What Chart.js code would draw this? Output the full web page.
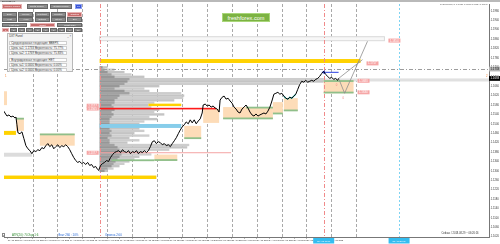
<!DOCTYPE html>
<html>
<head>
<meta charset="utf-8">
<script src="https://cdn.jsdelivr.net/npm/chart.js@4.4.1/dist/chart.umd.min.js"></script>
<style>
  html, body { margin: 0; padding: 0; background: #fff; }
  #wrap { position: relative; width: 500px; height: 244px; overflow: hidden; font-family: "Liberation Sans", Arial, sans-serif; }
  #chart { position: absolute; left: 0; top: 0; }
  .t { position: absolute; white-space: nowrap; line-height: 1; }
  .btn { position: absolute; box-sizing: border-box; background: #8b8b8b; color: #f0f0f0; border: 0.5px solid #666;
         font-size: 2.5px; text-align: center; white-space: nowrap; overflow: hidden; }
  .btn.on { background: #c76a6a; border-color: #e7b3b3; color: #fff; }
  .btn.blue { background: #3a55d6; border-color: #8ea0f0; color: #fff; }
  #panel { position: absolute; left: 6.7px; top: 32.7px; width: 66.6px; height: 39px; box-sizing: border-box;
           background: #f3f3f3; border: 0.5px solid #b8b8b8; }
  #panel .ttl { position: absolute; left: 1.5px; top: 0.8px; font-size: 2.8px; color: #333; }
  #panel .ico { position: absolute; right: 1.2px; top: 0.6px; font-size: 2.8px; color: #555; }
  #panel .ln { position: absolute; left: 1.6px; width: 58px; height: 4.3px; box-sizing: border-box; background: #fff;
               border: 0.5px solid #cfcfcf; font-size: 2.9px; line-height: 3.6px; padding-left: 1px; color: #333; white-space: nowrap; }
  #wm { position: absolute; left: 222px; top: 13px; width: 48px; height: 9px; box-sizing: border-box; background: #7cb342;
        border: 0.6px solid #a9d67a; color: #fff; font-size: 5.6px; line-height: 8px; text-align: center; }
  #topbar { position: absolute; left: 0; top: 0; width: 500px; height: 2px; background: #b9b9b9; }
</style>
</head>
<body>
<div id="wrap">
  <canvas id="chart" width="500" height="244"></canvas>
  <div id="topbar"></div>
  <div class="t" style="left:2px;top:0.3px;font-size:2.3px;color:#222">EURUSD,H1</div>
  <div class="t" style="left:440px;top:2.6px;font-size:2.1px;color:#555">[P] EURUSD,H1 1.16950 1.16962 1.16924 1.16933</div>

  <div class="btn on" style="left:2px;top:4.3px;width:20px;height:4.7px;line-height:4.2px">Volume Profile</div>
  <div class="btn" style="left:26.5px;top:4.3px;width:21px;height:4.7px;line-height:4.2px">Delta Profile</div>
  <div class="btn" style="left:50px;top:4.3px;width:22px;height:4.7px;line-height:4.2px">Jumbo Profile</div>
  <div class="btn blue" style="left:75px;top:4.3px;width:7px;height:4.7px;line-height:4.2px">Px</div>

  <div class="btn" style="left:2px;top:12px;width:15px;height:4.6px;line-height:4.1px">Daily</div>
  <div class="btn" style="left:18.3px;top:12px;width:15px;height:4.6px;line-height:4.1px">Weekly</div>
  <div class="btn" style="left:34.6px;top:12px;width:15px;height:4.6px;line-height:4.1px">Contract</div>
  <div class="btn" style="left:50.9px;top:12px;width:15px;height:4.6px;line-height:4.1px">Monthly</div>
  <div class="btn on" style="left:67.2px;top:12px;width:15px;height:4.6px;line-height:4.1px">Custom</div>

  <div class="btn" style="left:2px;top:17.4px;width:15px;height:4.4px;line-height:3.9px">Hist</div>
  <div class="btn" style="left:18.3px;top:17.4px;width:15px;height:4.4px;line-height:3.9px">Area</div>
  <div class="btn" style="left:34.6px;top:17.4px;width:15px;height:4.4px;line-height:3.9px">Outline</div>
  <div class="btn" style="left:50.9px;top:17.4px;width:15px;height:4.4px;line-height:3.9px">Styler</div>
  <div class="btn" style="left:67.2px;top:17.4px;width:15px;height:4.4px;line-height:3.9px">Del</div>

  <div class="btn" style="left:2px;top:22.6px;width:25px;height:4.4px;line-height:3.9px">Left Side</div>
  <div class="btn on" style="left:29.6px;top:22.6px;width:25.4px;height:4.4px;line-height:3.9px">Chart</div>
  <div class="btn" style="left:57.4px;top:22.6px;width:24.8px;height:4.4px;line-height:3.9px">Right Side</div>

  <div class="btn on" style="left:2px;top:27.8px;width:7.4px;height:4.2px;line-height:3.7px">1</div>
  <div class="btn" style="left:10px;top:27.8px;width:7.4px;height:4.2px;line-height:3.7px">2</div>
  <div class="btn" style="left:18px;top:27.8px;width:7.4px;height:4.2px;line-height:3.7px">3</div>
  <div class="btn" style="left:26px;top:27.8px;width:7.4px;height:4.2px;line-height:3.7px">4</div>
  <div class="btn" style="left:34px;top:27.8px;width:7.4px;height:4.2px;line-height:3.7px">5</div>
  <div class="btn" style="left:42px;top:27.8px;width:7.4px;height:4.2px;line-height:3.7px">6</div>
  <div class="btn" style="left:50px;top:27.8px;width:7.4px;height:4.2px;line-height:3.7px">7</div>
  <div class="btn" style="left:58px;top:27.8px;width:7.4px;height:4.2px;line-height:3.7px">8</div>
  <div class="btn" style="left:66px;top:27.8px;width:7.4px;height:4.2px;line-height:3.7px">9</div>
  <div class="btn" style="left:74px;top:27.8px;width:8.2px;height:4.2px;line-height:3.7px">10</div>

  <div id="panel">
    <div class="ttl">DXT Panel</div>
    <div class="ico">_ &#215;</div>
    <div class="ln" style="top:7.3px">Среднесрочная тенденция: ВВЕРХ</div>
    <div class="ln" style="top:12.3px">Цель №1: 1.1733 Вероятность: 75.77%</div>
    <div class="ln" style="top:17.3px">Цель №2: 1.1769 Вероятность: 75.83%</div>
    <div class="ln" style="top:24px">Внутридневная тенденция: НЕТ</div>
    <div class="ln" style="top:29px">Цель №1: 0.0000 Вероятность: 0.00%</div>
    <div class="ln" style="top:34px">Цель №2: 0.0000 Вероятность: 0.00%</div>
  </div>

  <div id="wm">freshforex.com</div>

  <div class="t" style="left:2px;top:233px;width:3.4px;height:3.8px;box-sizing:border-box;border:0.5px solid #888;font-size:2.4px;line-height:3px;text-align:center;color:#333">?</div>
  <div class="t" style="left:12px;top:233.6px;font-size:2.9px;color:#2e8b2e">ATR(20): 70 Ход 1:6</div>
  <div class="t" style="left:58px;top:233.6px;font-size:2.9px;color:#1f63d6">Флэт 260 : 10%</div>
  <div class="t" style="left:105px;top:233.6px;font-size:2.9px;color:#1f63d6">Отмена 2:00</div>
  <div class="t" style="left:441.5px;top:232.6px;font-size:2.6px;color:#333">Сейчас / 2018.08.29 ~ 06:26:16</div>
</div>

<script>
// ---- price (H1 closes, x = bar position) ----
const barX = [1,3,5,7,9,11,13,14,15,16,18,20,22,24,26,28,30,32,34,36,38,40,42,44,46,48,50,52,54,56,58,60,62,64,66,68,70,72,74,76,78,80,82,84,86,88,90,92,94,96,97,
  99,101,103,105,107,109,111,113,115,117,119,121,123,125,127,129,131,133,135,137,139,141,143,145,147,149,151,153,155,157,159,161,163,165,167,169,171,173,175,177,179,181,183,185,187,189,191,193,195,197,199,
  201,202,204,206,208,210,212,214,216,218,219,221,223,225,227,229,231,233,235,237,239,241,243,245,247,249,251,253,255,257,259,261,263,265,267,269,271,273,275,277,279,281,283,285,287,289,291,293,295,297,299,
  301,303,305,307,309,311,313,315,317,319,321,323,325,327,329,331,333,335,337,338];
const closePrice = [1.1559,1.1546,1.1533,1.1538,1.1529,1.1533,1.1525,1.1529,1.1496,1.1462,1.1458,1.1466,1.1437,1.1407,1.1394,1.1386,1.1373,1.1386,1.1382,1.1390,1.1386,1.1399,1.1394,1.1407,1.1416,1.1403,1.1411,1.1394,1.1403,1.1411,1.1399,1.1407,1.1403,1.1411,1.1403,1.1390,1.1373,1.1357,1.1344,1.1336,1.1340,1.1331,1.1336,1.1327,1.1336,1.1323,1.1327,1.1314,1.1319,1.1306,1.1302,
  1.1323,1.1331,1.1336,1.1344,1.1340,1.1357,1.1369,1.1378,1.1382,1.1386,1.1378,1.1390,1.1382,1.1378,1.1386,1.1373,1.1382,1.1378,1.1386,1.1373,1.1382,1.1378,1.1386,1.1378,1.1386,1.1403,1.1424,1.1428,1.1416,1.1424,1.1420,1.1411,1.1416,1.1407,1.1411,1.1403,1.1416,1.1428,1.1441,1.1458,1.1474,1.1487,1.1496,1.1508,1.1500,1.1517,1.1504,1.1517,1.1500,1.1512,1.1521,
  1.1546,1.1580,1.1584,1.1576,1.1580,1.1571,1.1576,1.1567,1.1563,1.1550,1.1601,1.1613,1.1618,1.1605,1.1609,1.1597,1.1588,1.1571,1.1563,1.1550,1.1546,1.1563,1.1571,1.1580,1.1567,1.1550,1.1538,1.1533,1.1542,1.1533,1.1538,1.1542,1.1546,1.1542,1.1554,1.1571,1.1597,1.1626,1.1630,1.1634,1.1626,1.1630,1.1618,1.1609,1.1605,1.1613,1.1609,1.1618,1.1626,1.1647,1.1668,
  1.1681,1.1677,1.1685,1.1677,1.1681,1.1685,1.1681,1.1689,1.1693,1.1702,1.1714,1.1723,1.1710,1.1702,1.1693,1.1698,1.1689,1.1693,1.1685,1.1693];

// highlighted (teal) stretch of the price line
const tealX = [283,285,287,289,291,293,295];
const tealPrice = [1.1618,1.1609,1.1605,1.1613,1.1609,1.1618,1.1626];

// projected scenario lines
const projAX = [338, 362];
const projAPrice = [1.1693, 1.1773];
const projBX = [338, 344, 367];
const projBPrice = [1.1693, 1.1630, 1.1851];
const arrowX = [323, 338];
const arrowPrice = [1.1719, 1.1719];

// volume profile (anchored at bar 98)
const profStart = 98;
const profStep = 0.0010;
const profPrice = [1.1740,1.1730,1.1720,1.1710,1.1700,1.1690,1.1680,1.1670,1.1660,1.1650,1.1640,1.1630,1.1620,1.1610,1.1600,1.1590,1.1580,1.1570,1.1560,1.1550,1.1540,1.1530,1.1520,1.1510,1.1500,1.1490,1.1480,1.1470,1.1460,1.1450,1.1440,1.1430,1.1420,1.1410,1.1400,1.1390,1.1380,1.1370,1.1360,1.1350,1.1340,1.1330,1.1320,1.1310,1.1300];
const profTotal = [8,15,25,32,45,225,225,200,60,45,50,82,85,84,75,55,49,52,60,55,65,50,58,45,40,40,40,45,35,50,30,40,28,90,88,70,45,52,40,35,30,25,20,14,8];
const profCore = [3,5,8,12,15,30,28,25,20,15,25,30,20,18,15,15,12,14,15,12,14,12,10,10,10,10,10,12,10,12,8,10,10,15,18,20,25,22,20,18,16,14,12,8,5];

// levels
const pocBand = [98, 489, 1.1693, 1.1680];
const topBand = [98, 384, 1.18704, 1.18535];
const yellowBands = [[98, 360, 1.17755, 1.17587], [2, 155, 1.12801, 1.12654], [2, 14, 1.14699, 1.14530], [147, 180, 1.15858, 1.15753]];
const greyBands = [[2, 30, 1.13771, 1.13602]];
const cyanBand = [98, 180, 1.14994, 1.14825];
const redLine = [98, 215, 1.15647];
const pinkLine = [98, 230, 1.13771];
const targetLevel = 1.1733;
const lastPrice = 1.1693;

// supply / demand zones [x0, x1, high, low] and their green edges [x0, x1, price]
const zones = [[2,5,1.16385,1.15795],[14,22,1.15249,1.14702],[38,73,1.14576,1.14071],[153,176,1.13692,1.13439],[183,200,1.14913,1.14365],
  [202,218,1.15628,1.15039],[222,272,1.15712,1.15207],[272,282,1.15923,1.15418],[283,297,1.16091,1.15544],[323,353,1.16849,1.16302]];
const greenEdges = [[14,22,1.1522],[38,73,1.1455],[153,176,1.1346],[110,153,1.1345],[183,200,1.1439],[222,272,1.1523],[245,272,1.1569],
  [272,282,1.1544],[283,297,1.1557],[323,353,1.1682],[323,353,1.1633]];

// price tags [x, price]
const tags = [[85,1.1577],[85,1.1565],[85,1.1377],[366,1.1757],[388,1.1854],[357,1.1683],[357,1.1634]];

// time lines
const gridX = [30.7,55.7,80.7,105.7,130.7,155.7,180.7,205.7,230.7,255.7,280.7,305.7,330.7,355.7];
const eventX = [98, 323];
const nowX = 398.7;
const timeTags = [[323,'28 Aug 17:00'],[398.7,'31 Aug 20:00']];

// axes
const yTicks = [1.1020,1.1060,1.1100,1.1140,1.1180,1.1220,1.1260,1.1300,1.1340,1.1380,1.1420,1.1460,1.1500,1.1540,1.1580,1.1620,1.1660,1.1700,1.1740,1.1780,1.1820,1.1860,1.1900,1.1940,1.1980];
const xTickPos = [5.7,18.2,30.7,43.2,55.7,68.2,80.7,93.2,105.7,118.2,130.7,143.2,155.7,168.2,180.7,193.2,205.7,218.2,230.7,243.2,255.7,268.2,280.7,293.2,305.7,318.2,330.7];
const xTickText = ['10 Aug 2018','10 Aug 12:00','13 Aug 2018','13 Aug 12:00','14 Aug 2018','14 Aug 12:00','15 Aug 2018','15 Aug 12:00','16 Aug 2018','16 Aug 12:00',
  '17 Aug 2018','17 Aug 12:00','20 Aug 2018','20 Aug 12:00','21 Aug 2018','21 Aug 12:00','22 Aug 2018','22 Aug 12:00','23 Aug 2018','23 Aug 12:00',
  '24 Aug 2018','24 Aug 12:00','27 Aug 2018','27 Aug 12:00','28 Aug 2018','28 Aug 12:00','29 Aug 2018'];

const pts = (xs, ys) => xs.map((x, i) => ({ x: x, y: ys[i] }));

/* =========================
   BACKGROUND OBJECTS
========================= */
const objects = {
  id: 'objects',
  beforeDatasetsDraw(chart) {
    const { ctx, chartArea: a } = chart;
    const X = v => chart.scales.x.getPixelForValue(v);
    const Y = v => chart.scales.y.getPixelForValue(v);
    const box = (x0, x1, p0, p1, col) => {
      const ya = Y(p0), yb = Y(p1);
      ctx.fillStyle = col;
      ctx.fillRect(X(x0), Math.min(ya, yb), X(x1) - X(x0), Math.abs(yb - ya));
    };
    ctx.save();
    ctx.beginPath();
    ctx.rect(a.left, a.top, a.right - a.left, a.bottom - a.top);
    ctx.clip();

    // grid
    ctx.strokeStyle = '#a9a9a9';
    ctx.lineWidth = 1;
    ctx.setLineDash([3, 2]);
    gridX.forEach(g => {
      const x = Math.round(X(g)) + 0.5;
      ctx.beginPath(); ctx.moveTo(x, a.top); ctx.lineTo(x, a.bottom); ctx.stroke();
    });
    ctx.setLineDash([]);
    ctx.strokeStyle = '#b0b0b0';
    ctx.beginPath(); ctx.moveTo(a.left - 0.5, a.top); ctx.lineTo(a.left - 0.5, a.bottom); ctx.stroke();

    // light top band
    box(topBand[0], topBand[1], topBand[2], topBand[3], '#f7f7f7');
    ctx.strokeStyle = '#dadada';
    ctx.strokeRect(X(topBand[0]), Y(topBand[2]), X(topBand[1]) - X(topBand[0]), Y(topBand[3]) - Y(topBand[2]));

    // POC band
    box(pocBand[0], pocBand[1], pocBand[2], pocBand[3], '#e0e0e0');

    // volume profile
    profPrice.forEach((p, i) => box(profStart, profStart + profTotal[i], p + profStep / 2, p - profStep / 2, i % 2 ? '#cdcdcd' : '#c4c4c4'));
    profPrice.forEach((p, i) => box(profStart, profStart + profCore[i], p + profStep / 2, p - profStep / 2, i % 2 ? '#a2a2a2' : '#979797'));

    greyBands.forEach(b => box(b[0], b[1], b[2], b[3], '#dcdcdc'));
    box(cyanBand[0], cyanBand[1], cyanBand[2], cyanBand[3], '#87cdea');

    // zones
    zones.forEach(z => box(z[0], z[1], z[2], z[3], '#fddcb8'));
    ctx.fillStyle = '#8fbf8a';
    greenEdges.forEach(g => { ctx.fillRect(X(g[0]), Y(g[2]) - 0.9, X(g[1]) - X(g[0]), 1.8); });

    yellowBands.forEach(b => box(b[0], b[1], b[2], b[3], '#ffd200'));

    // red / pink levels
    ctx.fillStyle = '#ff1a1a';
    ctx.fillRect(X(redLine[0]), Y(redLine[2]) - 0.8, X(redLine[1]) - X(redLine[0]), 1.6);
    ctx.fillStyle = '#f4a3a3';
    ctx.fillRect(X(pinkLine[0]), Y(pinkLine[2]) - 0.5, X(pinkLine[1]) - X(pinkLine[0]), 1);

    // target dash-dot level
    ctx.strokeStyle = '#9c9c9c';
    ctx.setLineDash([4, 2, 1, 2]);
    const ty = Math.round(Y(targetLevel)) + 0.5;
    ctx.beginPath(); ctx.moveTo(a.left, ty); ctx.lineTo(a.right, ty); ctx.stroke();

    // event / now verticals
    ctx.strokeStyle = '#f08a8a';
    eventX.forEach(e => {
      const x = Math.round(X(e)) + 0.5;
      ctx.beginPath(); ctx.moveTo(x, a.top); ctx.lineTo(x, a.bottom); ctx.stroke();
    });
    ctx.strokeStyle = '#7fd3f2';
    ctx.setLineDash([2, 2]);
    const nx = Math.round(X(nowX)) + 0.5;
    ctx.beginPath(); ctx.moveTo(nx, a.top); ctx.lineTo(nx, a.bottom); ctx.stroke();
    ctx.restore();
  },

  afterDraw(chart) {
    const { ctx, chartArea: a } = chart;
    const X = v => chart.scales.x.getPixelForValue(v);
    const Y = v => chart.scales.y.getPixelForValue(v);
    ctx.save();
    ctx.textBaseline = 'middle';

    // price tags
    ctx.font = '2.8px "Liberation Sans"';
    tags.forEach(t => {
      const y = Y(t[1]);
      ctx.fillStyle = '#f6a6a6';
      ctx.fillRect(X(t[0]), y - 2, 12, 4);
      ctx.fillStyle = '#fff';
      ctx.fillText(t[1].toFixed(4), X(t[0]) + 1.5, y + 0.2);
    });

    // scenario markers
    ctx.fillStyle = '#f08080';
    ctx.fillText('0', X(336) - 1, Y(1.1665));
    ctx.fillText('0', X(343) - 1, Y(1.1610));
    ctx.fillStyle = '#f08030';
    ctx.fillText('1', X(3), Y(1.1701));
    ctx.fillText('2', a.right - 3, Y(1.1702));

    // axis boxes
    ctx.font = '2.8px "Liberation Sans"';
    let y = Y(targetLevel);
    ctx.fillStyle = '#b4b4b4';
    ctx.fillRect(a.right, y - 2.4, 11, 4.8);
    ctx.fillStyle = '#111';
    ctx.fillText(targetLevel.toFixed(4), a.right + 1.5, y + 0.2);
    y = Y(lastPrice);
    ctx.fillStyle = '#000';
    ctx.fillRect(a.right, y - 2.4, 11, 4.8);
    ctx.fillStyle = '#fff';
    ctx.fillText(lastPrice.toFixed(4), a.right + 1.5, y + 0.2);

    // time boxes
    ctx.font = '2.2px "Liberation Sans"';
    ctx.textAlign = 'center';
    timeTags.forEach(t => {
      const x = X(t[0]);
      ctx.fillStyle = '#34bdf0';
      ctx.fillRect(x - 10.5, a.bottom + 1, 21, 5.5);
      ctx.fillStyle = '#fff';
      ctx.fillText(t[1], x, a.bottom + 3.9);
    });
    ctx.restore();
  }
};

new Chart(document.getElementById('chart'), {
  type: 'line',
  data: {
    datasets: [
      { label: 'EURUSD,H1', data: pts(barX, closePrice), borderColor: '#000', borderWidth: 1, pointRadius: 0, tension: 0 },
      { label: 'highlight', data: pts(tealX, tealPrice), borderColor: '#1fb5b0', borderWidth: 1.2, pointRadius: 0 },
      { label: 'scenario A', data: pts(projAX, projAPrice), borderColor: '#8e8e8e', borderWidth: 0.8, pointRadius: 0 },
      { label: 'scenario B', data: pts(projBX, projBPrice), borderColor: '#8e8e8e', borderWidth: 0.8, pointRadius: 0 },
      { label: 'arrow', data: pts(arrowX, arrowPrice), borderColor: '#2a3fe0', borderWidth: 1, pointRadius: [2.3, 0],
        pointStyle: 'triangle', rotation: -90, pointBackgroundColor: '#2a3fe0', pointBorderWidth: 0 }
    ]
  },
  options: {
    responsive: false,
    animation: false,
    events: [],
    layout: { padding: { left: 2, top: 2, right: 0, bottom: 0 } },
    plugins: { legend: { display: false }, tooltip: { enabled: false } },
    scales: {
      x: {
        type: 'linear', min: 2, max: 489,
        afterFit(s) { s.height = 7; },
        afterBuildTicks(s) { s.ticks = xTickPos.map(v => ({ value: v })); },
        ticks: { autoSkip: false, maxRotation: 0, align: 'start', padding: 0.6, color: '#333',
                 font: { size: 2.1, family: 'Liberation Sans', lineHeight: 1 },
                 callback: (v, i) => xTickText[i] },
        grid: { drawOnChartArea: false, tickLength: 2, color: '#8a8a8a', lineWidth: 0.6 },
        border: { color: '#777', width: 1 }
      },
      y: {
        position: 'right', min: 1.10188, max: 1.20095,
        afterFit(s) { s.width = 11; },
        afterBuildTicks(s) { s.ticks = yTicks.map(v => ({ value: v })); },
        ticks: { autoSkip: false, padding: 0.5, color: '#333',
                 font: { size: 2.7, family: 'Liberation Sans', lineHeight: 1 },
                 callback: v => v.toFixed(4) },
        grid: { drawOnChartArea: false, tickLength: 1.2, color: '#777', lineWidth: 0.6 },
        border: { color: '#777', width: 1 }
      }
    }
  },
  plugins: [objects]
});
</script>
</body>
</html>
